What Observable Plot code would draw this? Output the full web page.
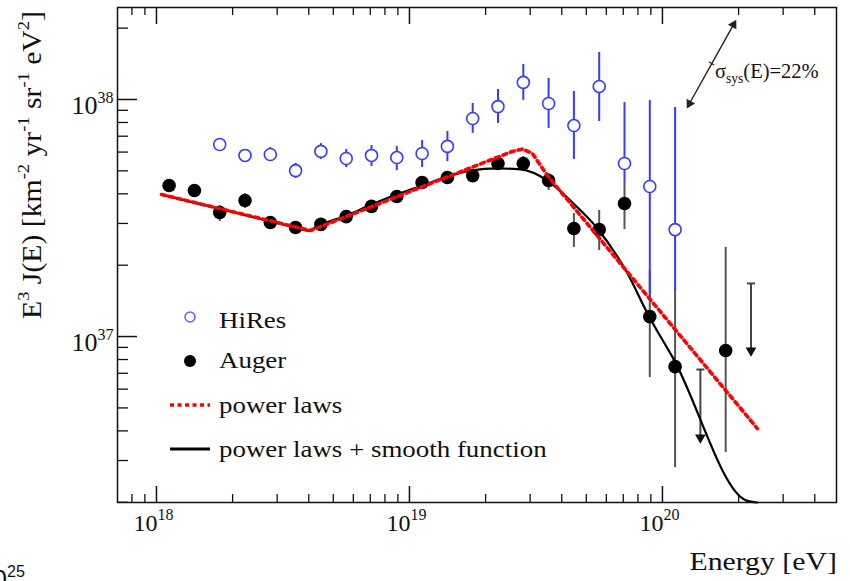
<!DOCTYPE html>
<html><head><meta charset="utf-8">
<script src="https://cdn.jsdelivr.net/npm/d3@7"></script>
<script src="https://cdn.jsdelivr.net/npm/@observablehq/plot@0.6"></script>
<style>
body{margin:0;background:#fff;overflow:hidden;}
#wrap{position:relative;width:850px;height:581px;overflow:hidden;font-family:"Liberation Serif","Times New Roman",serif;color:#111;}
.abs{position:absolute;white-space:nowrap;}
.abs sup{font-size:62%;position:relative;top:-0.1em;vertical-align:super;line-height:0;}
.abs sub{font-size:66%;position:relative;vertical-align:sub;line-height:0;}
</style></head><body><div id="wrap"></div>
<script>
// ---- data (log10 values) ----
const hiresLgE = [18.25,18.35,18.45,18.55,18.65,18.75,18.85,18.95,19.05,19.15,19.25,19.35,19.45,19.55,19.65,19.75,19.85,19.95,20.05];
const hiresLgJ = [37.810,37.764,37.768,37.700,37.781,37.751,37.764,37.755,37.772,37.802,37.920,37.970,38.072,37.983,37.890,38.055,37.730,37.633,37.451];
const hiresLgHi = [37.831,37.789,37.797,37.730,37.814,37.789,37.806,37.802,37.827,37.865,37.983,38.042,38.148,38.089,38.034,38.198,37.987,37.996,37.966];
const hiresLgLo = [37.789,37.734,37.743,37.667,37.747,37.713,37.717,37.700,37.713,37.738,37.857,37.899,37.996,37.878,37.747,37.907,37.646,37.152,37.194];

const augerLgE = [18.05,18.15,18.25,18.35,18.45,18.55,18.65,18.75,18.85,18.95,19.05,19.15,19.25,19.35,19.45,19.55,19.65,19.75,19.85,19.95,20.05,20.25];
const augerLgJ = [37.637,37.616,37.523,37.574,37.481,37.460,37.473,37.506,37.549,37.591,37.650,37.671,37.679,37.730,37.730,37.658,37.456,37.451,37.561,37.084,36.873,36.941];
const augerLgHi = [37.654,37.633,37.553,37.603,37.498,37.477,37.489,37.523,37.565,37.608,37.667,37.692,37.700,37.755,37.759,37.688,37.519,37.532,37.646,37.278,37.207,37.376];
const augerLgLo = [37.620,37.599,37.485,37.540,37.464,37.443,37.456,37.489,37.532,37.574,37.633,37.650,37.658,37.705,37.700,37.616,37.376,37.363,37.451,36.827,36.447,36.511];

const limitLgE = [20.15,20.35];
const limitLgCap = [36.861,37.224];
const limitLgTip = [36.561,36.928];

const powerLgE = [18.020,18.609,19.407,19.447,19.486,19.545,20.375];
const powerLgJ = [37.599,37.447,37.781,37.791,37.772,37.679,36.612];

const smoothLgE = [18.020,18.549,18.597,18.652,18.751,18.850,18.949,19.051,19.150,19.241,19.348,19.439,19.545,19.636,19.743,19.862,19.945,20.043,20.332,20.375];
const smoothLgJ = [37.599,37.460,37.447,37.473,37.511,37.557,37.599,37.637,37.675,37.700,37.709,37.705,37.658,37.574,37.456,37.266,37.089,36.907,36.308,36.200];

const sysLgE = [20.107,20.281];   // arrow tips (low, high)
const sysLgJ = [37.983,38.316];
const sysMidLgE = [20.194];
const sysMidLgJ = [38.152];

const xDomainLg = [17.846,20.688];
const yDomainLg = [36.300,38.388];
const xTicks = [1e18,1e19,1e20];
const xTickLabels = ["18","19","20"];
const yTicks = [1e37,1e38];
const yTickLabels = ["37","38"];
const minorMult = [2,3,4,5,6,7,8,9];

// ---- build ----
const p10 = v => Math.pow(10, v);
const xDomain = xDomainLg.map(p10), yDomain = yDomainLg.map(p10);
const hires = hiresLgE.map((e,i)=>({E:p10(e), J:p10(hiresLgJ[i]), lo:p10(hiresLgLo[i]), hi:p10(hiresLgHi[i])}));
const auger = augerLgE.map((e,i)=>({E:p10(e), J:p10(augerLgJ[i]), lo:p10(augerLgLo[i]), hi:p10(augerLgHi[i])}));
const limits = limitLgE.map((e,i)=>({E:p10(e), cap:p10(limitLgCap[i]), tip:p10(limitLgTip[i])}));
const power = powerLgE.map((e,i)=>({E:p10(e), J:p10(powerLgJ[i])}));
const smooth = smoothLgE.map((e,i)=>({E:p10(e), J:Math.max(p10(smoothLgJ[i]), yDomain[0])}));
const sys = sysLgE.map((e,i)=>({E:p10(e), J:p10(sysLgJ[i])}));
const sysMid = sysMidLgE.map((e,i)=>({E:p10(e), J:p10(sysMidLgJ[i])}));

const inRange = (v, d) => v >= d[0] && v <= d[1];
const minorX = [], minorY = [];
for (let k = 17; k <= 20; k++) for (const m of minorMult) { const v = m*p10(k); if (inRange(v, xDomain)) minorX.push(v); }
for (let k = 36; k <= 38; k++) for (const m of minorMult) { const v = m*p10(k); if (inRange(v, yDomain)) minorY.push(v); }

const W = 850, H = 581, mL = 117, mR = 14, mT = 7, mB = 79;
const fW = W - mL - mR, fH = H - mT - mB;
const ink = "#111";
const hline = {draw(ctx, size){ const r = Math.sqrt(size/Math.PI); ctx.moveTo(-r,0); ctx.lineTo(r,0); }};
const blue = "#3a3aff";

const chart = Plot.plot({
  width: W, height: H,
  marginLeft: mL, marginRight: mR, marginTop: mT, marginBottom: mB,
  x: {type: "log", domain: xDomain, axis: null},
  y: {type: "log", domain: yDomain, axis: null},
  style: {fontFamily: "Liberation Serif, Times New Roman, serif", color: ink, background: "white", overflow: "visible"},
  marks: [
    // ticks (inside the frame)
    Plot.tickX(xTicks, {x: d=>d, insetTop: fH-16, stroke: ink, strokeWidth: 1.5}),
    Plot.tickX(minorX, {x: d=>d, insetTop: fH-8, stroke: ink, strokeWidth: 1.3}),
    Plot.tickX(xTicks, {x: d=>d, insetBottom: fH-17, stroke: ink, strokeWidth: 1.5}),
    Plot.tickX(minorX, {x: d=>d, insetBottom: fH-8, stroke: ink, strokeWidth: 1.3}),
    Plot.tickY(yTicks, {y: d=>d, insetRight: fW-20, stroke: ink, strokeWidth: 1.5}),
    Plot.tickY(minorY, {y: d=>d, insetRight: fW-11, stroke: ink, strokeWidth: 1.3}),
    // tick labels
    Plot.text(xTicks, {x: d=>d, frameAnchor: "bottom", text: ()=>"10", textAnchor: "end", dx: 1, dy: 28, fontSize: 24, fill: ink}),
    Plot.text(xTicks, {x: d=>d, frameAnchor: "bottom", text: (d,i)=>xTickLabels[i], textAnchor: "start", dx: 1, dy: 17, fontSize: 16, fill: ink}),
    Plot.text(yTicks, {y: d=>d, frameAnchor: "left", text: ()=>"10", textAnchor: "end", dx: -20, dy: 6, fontSize: 26, fill: ink}),
    Plot.text(yTicks, {y: d=>d, frameAnchor: "left", text: (d,i)=>yTickLabels[i], textAnchor: "start", dx: -20, dy: -2, fontSize: 16, fill: ink}),
    // Auger
    Plot.ruleX(auger, {x: "E", y1: "lo", y2: "hi", stroke: "#555", strokeWidth: 2}),
    Plot.dot(auger, {x: "E", y: "J", r: 6.8, fill: "#000", stroke: "none"}),
    // HiRes
    Plot.ruleX(hires, {x: "E", y1: "lo", y2: "hi", stroke: blue, strokeWidth: 2}),
    Plot.dot(hires, {x: "E", y: "J", r: 6, fill: "white", stroke: blue, strokeWidth: 1.6}),
    // Auger upper limits
    Plot.ruleX(limits, {x: "E", y1: "tip", y2: "cap", stroke: "#444", strokeWidth: 2}),
    Plot.dot(limits, {x: "E", y: "cap", symbol: hline, r: 4, stroke: "#444", strokeWidth: 2, fill: "none"}),
    Plot.dot(limits, {x: "E", y: "tip", symbol: "triangle", rotate: 180, r: 4, dy: -3, fill: ink, stroke: "none"}),
    // fits
    Plot.line(smooth, {x: "E", y: "J", stroke: "#000", strokeWidth: 2.2, curve: "monotone-x"}),
    Plot.line(power, {x: "E", y: "J", stroke: "#ff0000", strokeWidth: 3.6, strokeDasharray: "4,4"}),
    // systematic uncertainty arrow
    Plot.line(sys, {x: "E", y: "J", stroke: "#222", strokeWidth: 1.4}),
    Plot.dot(sys, {x: "E", y: "J", symbol: "triangle", rotate: (d,i)=> i === 0 ? 209 : 29, r: 3.6, fill: "#222", stroke: "none"}),
    Plot.dot(sysMid, {x: "E", y: "J", symbol: hline, rotate: 29, r: 3, stroke: "#222", strokeWidth: 1.2, fill: "none"}),
    Plot.frame({stroke: ink, strokeWidth: 1.5})
  ]
});

const wrap = document.getElementById("wrap");
chart.style.position = "absolute"; chart.style.left = "0"; chart.style.top = "0";
wrap.appendChild(chart);

function addHTML(html, css){ const d = document.createElement("div"); d.className = "abs"; d.innerHTML = html; Object.assign(d.style, css); wrap.appendChild(d); return d; }

// y-axis title (rotated)
addHTML("E<sup>3</sup> J(E) [km<sup>-2</sup> yr<sup>-1</sup> sr<sup>-1</sup> eV<sup>2</sup>]",
  {left: (32-200)+"px", top: (165-14)+"px", width: "400px", textAlign: "center", fontSize: "27px", lineHeight: "28px", transform: "rotate(-90deg) scaleX(1.1)", transformOrigin: "50% 50%"});
// x-axis title
addHTML("Energy [eV]", {right: "13px", top: "549px", fontSize: "25px", lineHeight: "25px", transform: "scaleX(1.19)", transformOrigin: "100% 50%"});
// systematic label
addHTML("σ<sub>sys</sub>(E)=22%", {left: "715px", top: "61px", fontSize: "20.5px", lineHeight: "20px"});
// fragment of neighbouring figure
addHTML("10<sup style='font-size:62%'>25</sup>", {left: "-22px", top: "566px", fontSize: "26px", lineHeight: "26px", fontFamily: "Liberation Sans, Arial, sans-serif"});

// legend
const legendRows = [
  {label: "HiRes", base: 328, sy: 317, kind: "open"},
  {label: "Auger", base: 368, sy: 361, kind: "filled"},
  {label: "power laws", base: 413, sy: 405, kind: "dash"},
  {label: "power laws + smooth function", base: 457, sy: 449, kind: "solid"}
];
const ns = "http://www.w3.org/2000/svg";
const lsvg = document.createElementNS(ns, "svg");
lsvg.setAttribute("width", W); lsvg.setAttribute("height", H);
Object.assign(lsvg.style, {position: "absolute", left: 0, top: 0, pointerEvents: "none"});
for (const r of legendRows) {
  let el;
  if (r.kind === "open" || r.kind === "filled") {
    el = document.createElementNS(ns, "circle");
    el.setAttribute("cx", 190); el.setAttribute("cy", r.sy);
    el.setAttribute("r", r.kind === "open" ? 5 : 6);
    el.setAttribute("fill", r.kind === "open" ? "white" : "#000");
    if (r.kind === "open") { el.setAttribute("stroke", "#6060ff"); el.setAttribute("stroke-width", 1.5); }
  } else {
    el = document.createElementNS(ns, "line");
    el.setAttribute("x1", 170); el.setAttribute("x2", 210); el.setAttribute("y1", r.sy); el.setAttribute("y2", r.sy);
    el.setAttribute("stroke", r.kind === "dash" ? "#ff0000" : "#000");
    el.setAttribute("stroke-width", r.kind === "dash" ? 3.5 : 3);
    if (r.kind === "dash") el.setAttribute("stroke-dasharray", "4,3.5");
  }
  lsvg.appendChild(el);
  addHTML(r.label, {left: "219px", top: (r.base - 19.3)+"px", fontSize: "23px", lineHeight: "23px", transform: "scaleX(1.17)", transformOrigin: "0 50%"});
}
wrap.appendChild(lsvg);
</script>
</body></html>
